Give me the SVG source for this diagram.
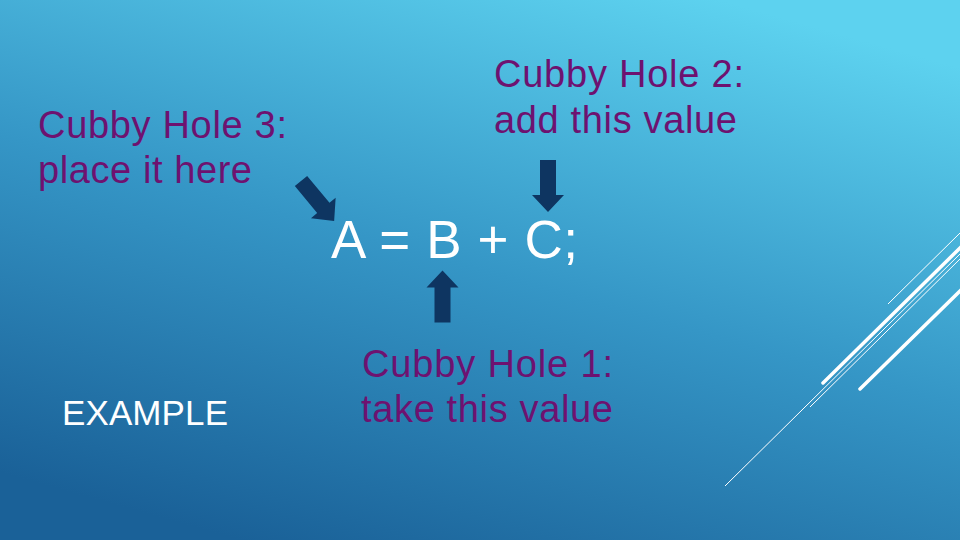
<svg xmlns="http://www.w3.org/2000/svg" width="960" height="540" viewBox="0 0 960 540">
<defs>
<linearGradient id="bg" x1="0.75" y1="0" x2="0.25" y2="1">
<stop offset="0" stop-color="#5DD2EF"/>
<stop offset="0.5" stop-color="#3596C6"/>
<stop offset="1" stop-color="#1A6198"/>
</linearGradient>
<polygon id="arr" points="-8,0 8,0 8,35 16,35 0,52 -16,35 -8,35"/>
</defs>
<style>
.lbl{font-family:"Liberation Sans",Arial,sans-serif;font-size:38px;fill:#6E1270}
.ex{font-family:"Liberation Sans",Arial,sans-serif;font-size:35px;fill:#FFFFFF}
.eq{font-family:"Liberation Sans",Arial,sans-serif;font-size:53px;fill:#FFFFFF}
.a{fill:#0E3561}
.thin{stroke:#FFFFFF;stroke-width:1;fill:none}
.thick{stroke:#FFFFFF;stroke-width:3.5;stroke-linecap:round;fill:none}
</style>
<rect x="0" y="0" width="960" height="540" fill="url(#bg)"/>
<g id="decor">
<line class="thin" x1="888" y1="304" x2="960" y2="233"/>
<line class="thick" x1="823" y1="383" x2="962" y2="246"/>
<line class="thin" x1="810" y1="407" x2="962" y2="257"/>
<line class="thin" x1="725" y1="486" x2="962" y2="252"/>
<line class="thick" x1="860" y1="389" x2="962" y2="289"/>
</g>
<g id="label3"><text class="lbl" x="38" y="137.5" textLength="249">Cubby Hole 3:</text><text class="lbl" x="38" y="183" textLength="214">place it here</text></g>
<g id="label2"><text class="lbl" x="494" y="87" textLength="250">Cubby Hole 2:</text><text class="lbl" x="494" y="133" textLength="243">add this value</text></g>
<g id="label1"><text class="lbl" x="362" y="377" textLength="251">Cubby Hole 1:</text><text class="lbl" x="361" y="422" textLength="252">take this value</text></g>
<g id="example"><text class="ex" x="62" y="425" textLength="166">EXAMPLE</text></g>
<g id="equation"><text class="eq" x="331" y="258" textLength="247">A = B + C;</text></g>
<g id="connectors">
<use href="#arr" class="a" transform="translate(301,181) rotate(-39.6)"/>
<use href="#arr" class="a" transform="translate(548,160)"/>
<use href="#arr" class="a" transform="translate(442.5,322.5) rotate(180)"/>
</g>
</svg>
